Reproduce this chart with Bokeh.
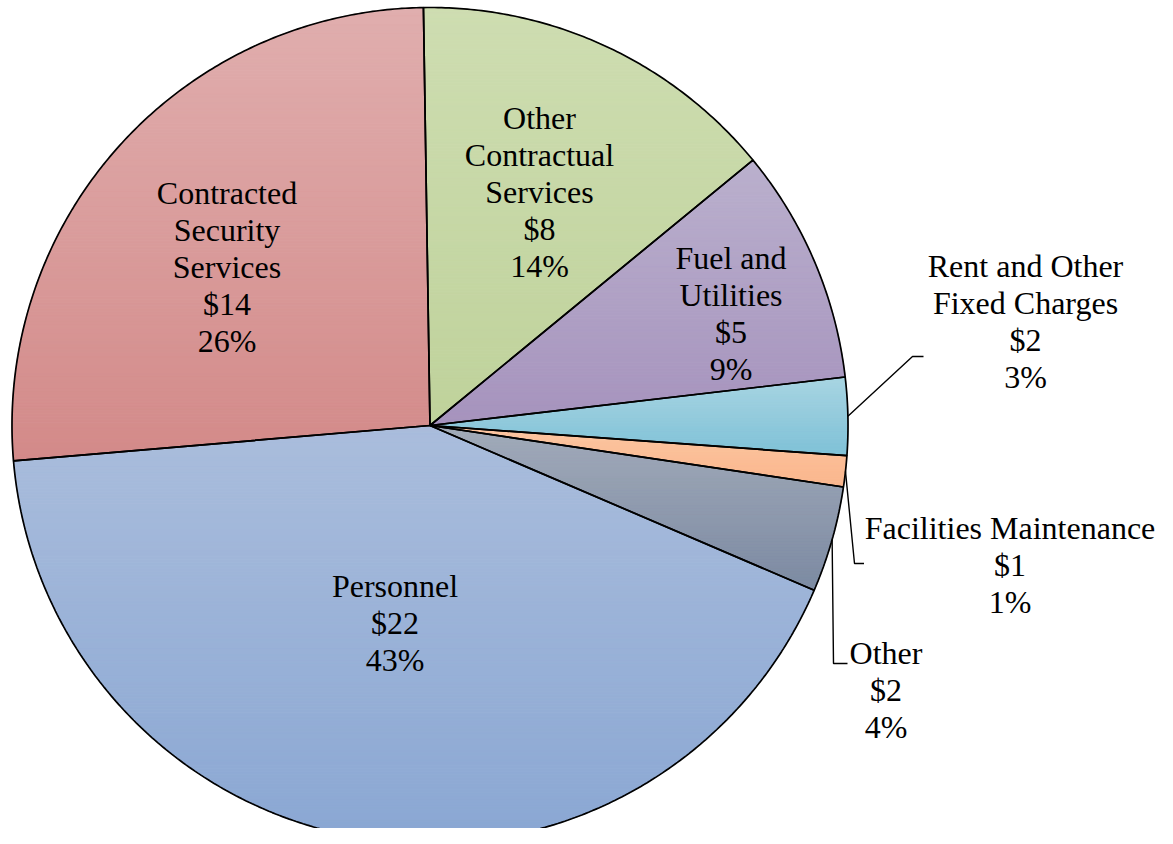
import numpy as np
from bokeh.plotting import figure
from bokeh.models import Range1d, ColumnDataSource
from bokeh.core.properties import value
from bokeh.embed import file_html
from bokeh.resources import INLINE

# ---------------- data ----------------
categories = ["Other Contractual Services", "Fuel and Utilities",
              "Rent and Other Fixed Charges", "Facilities Maintenance",
              "Other", "Personnel", "Contracted Security Services"]
name_lines = [["Other", "Contractual", "Services"],
              ["Fuel and", "Utilities"],
              ["Rent and Other", "Fixed Charges"],
              ["Facilities Maintenance"],
              ["Other"],
              ["Personnel"],
              ["Contracted", "Security", "Services"]]
amounts = [8, 5, 2, 1, 2, 22, 14]              # $ (as labelled)
pct_labels = [14, 9, 3, 1, 4, 43, 26]          # % (as labelled)
shares = [14.3, 9.1, 3.0, 1.2, 4.1, 42.2, 26.1]  # slice sizes, % of circle

# ---------------- style ----------------
top_colors = ["#CEDDB1", "#BAB0CD", "#A8D5E2", "#FCC6A2", "#A2ABBA", "#AABDDC", "#E0AEAE"]
bot_colors = ["#BFD29B", "#A693BD", "#7FC1D7", "#FAB68C", "#7C8AA2", "#8AA7D3", "#D38A89"]

W, H = 1157, 828
CX, CY, R = 429.5, 425.0, 418.0
START_DEG = -0.9
FONT = value("Liberation Serif")
FSIZE = "32px"
PITCH = 37.0
BASE_OFF = -1.0

# label block centres, offsets from pie centre (layout)
label_off = [(109.5, -233), (301, -111), (595.5, -103), (580, 140),
             (456, 265), (-35, 198), (-203, -158)]
# leader lines for the outside labels: index -> (elbow offset, end offset)
leaders = {2: ((482.5, -69), (493.5, -69)),
           3: ((424.5, 138), (434, 138)),
           4: ((403.5, 238), (417.5, 238))}

p = figure(width=W, height=H, x_range=Range1d(0, W), y_range=Range1d(H, 0),
           output_backend="svg", toolbar_location=None, min_border=0,
           x_axis_location=None, y_axis_location=None,
           background_fill_color="white", border_fill_color="white")
p.grid.visible = False
p.outline_line_color = None


def hex2rgb(h):
    h = h.lstrip("#")
    return np.array([int(h[i:i + 2], 16) for i in (0, 2, 4)], dtype=float)


def rgb2hex(c):
    c = np.clip(np.round(c), 0, 255).astype(int)
    return "#%02x%02x%02x" % tuple(c)


def clip_y(poly, y0, keep_greater):
    out = []
    n = len(poly)
    for i in range(n):
        a = poly[i]
        b = poly[(i + 1) % n]
        ina = (a[1] >= y0) if keep_greater else (a[1] <= y0)
        inb = (b[1] >= y0) if keep_greater else (b[1] <= y0)
        if ina:
            out.append(a)
        if ina != inb:
            t = (y0 - a[1]) / (b[1] - a[1])
            out.append((a[0] + t * (b[0] - a[0]), y0))
    return out


def pt(deg, r=R):
    a = np.radians(deg)
    return CX + r * np.sin(a), CY - r * np.cos(a)


total = float(sum(shares))
angles = [s / total * 360.0 for s in shares]
starts = START_DEG + np.concatenate([[0], np.cumsum(angles)[:-1]])

band_xs, band_ys, band_cols = [], [], []
out_xs, out_ys = [], []
mids = []
for i, (a0, da) in enumerate(zip(starts, angles)):
    a1 = a0 + da
    mids.append(a0 + da / 2)
    nseg = max(4, int(np.ceil(da / 0.5)))
    arc = [pt(a) for a in np.linspace(a0, a1, nseg + 1)]
    poly = [(CX, CY)] + arc
    out_xs.append([q[0] for q in poly])
    out_ys.append([q[1] for q in poly])
    ys = [q[1] for q in poly]
    ymin, ymax = min(ys), max(ys)
    nb = max(2, int(np.ceil((ymax - ymin) / 3.0)))
    edges = np.linspace(ymin, ymax, nb + 1)
    ct, cb = hex2rgb(top_colors[i]), hex2rgb(bot_colors[i])
    for k in range(nb):
        sub = clip_y(poly, edges[k], True)
        if len(sub) < 3:
            continue
        sub = clip_y(sub, edges[k + 1], False)
        if len(sub) < 3:
            continue
        t = (k + 0.5) / nb
        band_xs.append([q[0] for q in sub])
        band_ys.append([q[1] for q in sub])
        band_cols.append(rgb2hex(ct + (cb - ct) * t))

p.patches(band_xs, band_ys, fill_color=band_cols, line_color=band_cols, line_width=1)
p.patches(out_xs, out_ys, fill_color=None, line_color="black", line_width=1.7)

# leader lines
lx, ly = [], []
for i, (elb, end) in leaders.items():
    sx, sy = pt(mids[i])
    lx.append([sx, CX + elb[0], CX + end[0]])
    ly.append([sy, CY + elb[1], CY + end[1]])
p.multi_line(lx, ly, line_color="black", line_width=1.4)

# labels (each line drawn separately)
tx, ty, tt = [], [], []
for i in range(len(categories)):
    lines = name_lines[i] + ["$%d" % amounts[i], "%d%%" % pct_labels[i]]
    n = len(lines)
    bx, by = CX + label_off[i][0], CY + label_off[i][1]
    first = by - (n - 1) * PITCH / 2 + BASE_OFF
    for j, s in enumerate(lines):
        tx.append(bx)
        ty.append(first + j * PITCH)
        tt.append(s)
src = ColumnDataSource(dict(x=tx, y=ty, text=tt))
p.text(x="x", y="y", text="text", source=src, text_font=FONT, text_font_size=FSIZE,
       text_align="center", text_baseline="alphabetic", text_color="black")

open("out.html", "w").write(file_html(p, INLINE))
